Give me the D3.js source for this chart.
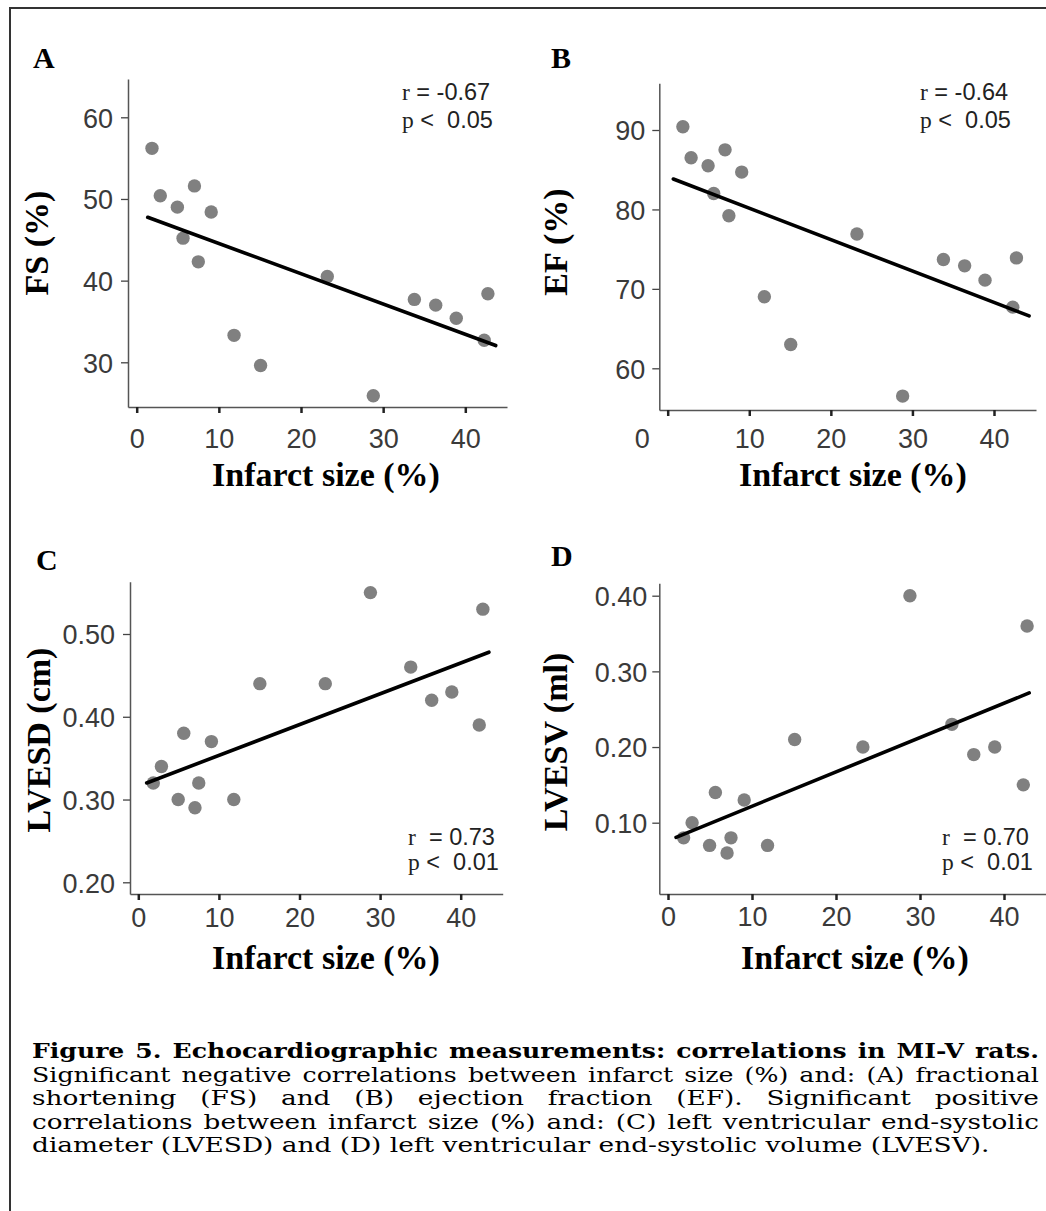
<!DOCTYPE html>
<html><head><meta charset="utf-8">
<script src="https://cdn.jsdelivr.net/npm/d3@7"></script>
<style>body{margin:0;background:#fff}</style>
</head><body>
<svg id="c" width="1046" height="1211" xmlns="http://www.w3.org/2000/svg"></svg>
<script>
// ---------------- DATA ----------------
const infarctSize = [1.86, 2.87, 4.95, 5.64, 7.03, 7.5, 9.07, 11.85, 15.08, 23.2, 28.8, 33.8, 36.4, 38.9, 42.3, 42.75];
const fsValues    = [56.2, 50.4, 49.0, 45.2, 51.6, 42.3, 48.4, 33.3, 29.6, 40.5, 25.9, 37.7, 37.0, 35.4, 32.7, 38.4];
const efValues    = [90.4, 86.5, 85.5, 82.0, 87.5, 79.2, 84.7, 69.0, 63.0, 76.9, 56.5, 73.7, 72.9, 71.1, 67.7, 73.9];
const lvesdValues = [0.32, 0.34, 0.30, 0.38, 0.29, 0.32, 0.37, 0.30, 0.44, 0.44, 0.55, 0.46, 0.42, 0.43, 0.39, 0.53];
const lvesvValues = [0.08, 0.10, 0.07, 0.14, 0.06, 0.08, 0.13, 0.07, 0.21, 0.20, 0.40, 0.23, 0.19, 0.20, 0.15, 0.36];

// fitted regression lines (endpoints)
const fitFS    = [[1.34, 47.76], [43.7, 32.05]];
const fitEF    = [[0.69, 83.83], [44.3, 66.6]];
const fitLVESD = [[1.04, 0.320], [43.5, 0.478]];
const fitLVESV = [[0.96, 0.0807], [43.0, 0.2715]];

const xTicks = [0, 10, 20, 30, 40];
const yTicksFS = [30, 40, 50, 60];
const yTicksEF = [60, 70, 80, 90];
const yTicksLVESD = [0.20, 0.30, 0.40, 0.50];
const yTicksLVESV = [0.10, 0.20, 0.30, 0.40];

const statsR = ["r = -0.67", "r = -0.64", "r  = 0.73", "r  = 0.70"];
const statsP = ["p <  0.05", "p <  0.05", "p <  0.01", "p <  0.01"];

const xTitle = "Infarct size (%)";
const captionLines = [
  "Figure 5. Echocardiographic measurements: correlations in MI-V rats.",
  "Significant negative correlations between infarct size (%) and: (A) fractional",
  "shortening (FS) and (B) ejection fraction (EF). Significant positive",
  "correlations between infarct size (%) and: (C) left ventricular end-systolic",
  "diameter (LVESD) and (D) left ventricular end-systolic volume (LVESV)."
];

// ---------------- LAYOUT ----------------
const panels = [
  {letter:"A", ylabel:"FS (%)", y:fsValues, fit:fitFS, yTicks:yTicksFS, fmt:d3.format("d"), yDom:[30,60],
   xPx:[136.7,465.3], yPx:[362.3,117.3], ax:{l:128,t:79,b:407,r:507},
   letterPos:[33,68], ylabelPos:[48,243], xlabelPos:[326,486], xLabY:41, yLabX:-15, stat:[402,100,128]},
  {letter:"B", ylabel:"EF (%)", y:efValues, fit:fitEF, yTicks:yTicksEF, fmt:d3.format("d"), yDom:[60,90],
   xPx:[667.7,994], yPx:[368.3,130], ax:{l:659.3,t:83.3,b:410,r:1036},
   letterPos:[551,68], ylabelPos:[567,242], xlabelPos:[853,486], xLabY:38, yLabX:-14, stat:[920,100,128], zeroShift:-26},
  {letter:"C", ylabel:"LVESD (cm)", y:lvesdValues, fit:fitLVESD, yTicks:yTicksLVESD, fmt:d3.format(".2f"), yDom:[0.2,0.5],
   xPx:[138.3,460.7], yPx:[882.3,634], ax:{l:130,t:581.7,b:894,r:502.7},
   letterPos:[36,570], ylabelPos:[50,740], xlabelPos:[326,969], xLabY:33, yLabX:-15, stat:[408,845,870]},
  {letter:"D", ylabel:"LVESV (ml)", y:lvesvValues, fit:fitLVESV, yTicks:yTicksLVESV, fmt:d3.format(".2f"), yDom:[0.1,0.4],
   xPx:[668,1004], yPx:[822.7,595.7], ax:{l:659.3,t:583.3,b:894,r:1046},
   letterPos:[551,566], ylabelPos:[567,742], xlabelPos:[855,969], xLabY:32, yLabX:-12, stat:[942,845,870]}
];

const svg = d3.select("#c");
svg.append("rect").attr("width",1046).attr("height",1211).attr("fill","#fff");

// frame
svg.append("line").attr("x1",9).attr("y1",8).attr("x2",1046).attr("y2",8).attr("stroke","#333").attr("stroke-width",2);
svg.append("line").attr("x1",10).attr("y1",7).attr("x2",10).attr("y2",1211).attr("stroke","#333").attr("stroke-width",2);

panels.forEach((P, i) => {
  const xpu = (P.xPx[1]-P.xPx[0]) / 40;
  const xmin = (P.ax.l - P.xPx[0]) / xpu, xmax = 40 + (P.ax.r - P.xPx[1]) / xpu;
  const x = d3.scaleLinear().domain([xmin, xmax]).range([P.ax.l, P.ax.r]);
  const ypu = (P.yPx[1]-P.yPx[0]) / (P.yDom[1]-P.yDom[0]);
  const ymin = P.yDom[0] + (P.ax.b - P.yPx[0]) / ypu, ymax = P.yDom[0] + (P.ax.t - P.yPx[0]) / ypu;
  const y = d3.scaleLinear().domain([ymin, ymax]).range([P.ax.b, P.ax.t]);

  const g = svg.append("g");

  const ya = g.append("g").attr("transform", `translate(${P.ax.l},0)`)
    .call(d3.axisLeft(y).tickValues(P.yTicks).tickFormat(P.fmt).tickSize(7).tickSizeOuter(0));
  ya.select(".domain").attr("stroke","#555").attr("stroke-width",1.5);
  ya.selectAll(".tick line").attr("stroke","#444").attr("stroke-width",1.3);
  ya.selectAll(".tick text").attr("x", P.yLabX).attr("dy","0.36em")
    .attr("font-family","'Liberation Sans', Arial, sans-serif").attr("font-size",27).attr("fill","#3a3a3a");

  const xa = g.append("g").attr("transform", `translate(0,${P.ax.b})`)
    .call(d3.axisBottom(x).tickValues(xTicks).tickFormat(d3.format("d")).tickSize(6).tickSizeOuter(0));
  xa.select(".domain").attr("stroke","#555").attr("stroke-width",1.5);
  xa.selectAll(".tick line").attr("stroke","#222").attr("stroke-width",2.5);
  xa.selectAll(".tick text").attr("y", P.xLabY).attr("dy", 0)
    .attr("font-family","'Liberation Sans', Arial, sans-serif").attr("font-size",27).attr("fill","#3a3a3a")
    .attr("dx", d => (d === 0 && P.zeroShift) ? P.zeroShift : 0);

  g.append("g").selectAll("circle").data(infarctSize.map((v,k)=>[v, P.y[k]])).join("circle")
    .attr("cx", d => x(d[0])).attr("cy", d => y(d[1])).attr("r", 6.7).attr("fill", "#808080");

  g.append("line")
    .attr("x1", x(P.fit[0][0])).attr("y1", y(P.fit[0][1]))
    .attr("x2", x(P.fit[1][0])).attr("y2", y(P.fit[1][1]))
    .attr("stroke","#000").attr("stroke-width",3.6).attr("stroke-linecap","round");

  g.append("text").attr("x", P.letterPos[0]).attr("y", P.letterPos[1])
    .attr("font-family","'Liberation Serif','Times New Roman',serif").attr("font-weight","bold").attr("font-size",30)
    .attr("fill","#000").text(P.letter);

  g.append("text").attr("transform", `translate(${P.ylabelPos[0]},${P.ylabelPos[1]}) rotate(-90)`)
    .attr("text-anchor","middle")
    .attr("font-family","'Liberation Serif','Times New Roman',serif").attr("font-weight","bold").attr("font-size",34)
    .attr("fill","#000").text(P.ylabel);

  g.append("text").attr("x", P.xlabelPos[0]).attr("y", P.xlabelPos[1]).attr("text-anchor","middle")
    .attr("font-family","'Liberation Serif','Times New Roman',serif").attr("font-weight","bold").attr("font-size",34)
    .attr("fill","#000").text(xTitle);

  [statsR[i], statsP[i]].forEach((s, j) => {
    const t = g.append("text").attr("x", P.stat[0]).attr("y", P.stat[1+j])
      .attr("font-size",23.5).attr("fill","#222").attr("xml:space","preserve");
    t.append("tspan").attr("font-family","'Liberation Serif',serif").text(s[0]);
    t.append("tspan").attr("font-family","'Liberation Sans',Arial,sans-serif").text(s.slice(1));
  });
});

// caption
const capLeft = 32, capRight = 1039, capLastRight = 990;
const capBase = [1058, 1081.5, 1105, 1128.5, 1152];
const capFont = "'DejaVu Serif', serif", capSize = 19.5;
function measure(txt, weight) {
  const pr = svg.append("text").attr("font-family",capFont).attr("font-size",capSize).attr("font-weight",weight).text(txt);
  const w = pr.node().getComputedTextLength(); pr.remove(); return w;
}
const sx = (capLastRight - capLeft) / measure(captionLines[4], "normal");
const fullW = capRight - capLeft;

captionLines.forEach((line, i) => {
  const weight = i === 0 ? "bold" : "normal";
  const words = line.split(" ");
  const widths = words.map(w => measure(w, weight));
  const total = d3.sum(widths);
  let s = sx;
  const minGap = 11;
  if (i < 4 && total * s + minGap * (words.length - 1) > fullW) s = (fullW - minGap * (words.length - 1)) / total;
  const lg = svg.append("g").attr("transform", `translate(${capLeft},${capBase[i]}) scale(${s},1)`);
  const t = lg.append("text").attr("y", 0).attr("font-family",capFont)
    .attr("font-size",capSize).attr("font-weight",weight).attr("fill","#000");
  if (i === 4) { t.attr("x",0).text(line); return; }
  const gap = (fullW / s - total) / (words.length - 1);
  let cx = 0;
  words.forEach((w, k) => {
    t.append("tspan").attr("x", cx).text(w);
    cx += widths[k] + gap;
  });
});
</script>
</body></html>
